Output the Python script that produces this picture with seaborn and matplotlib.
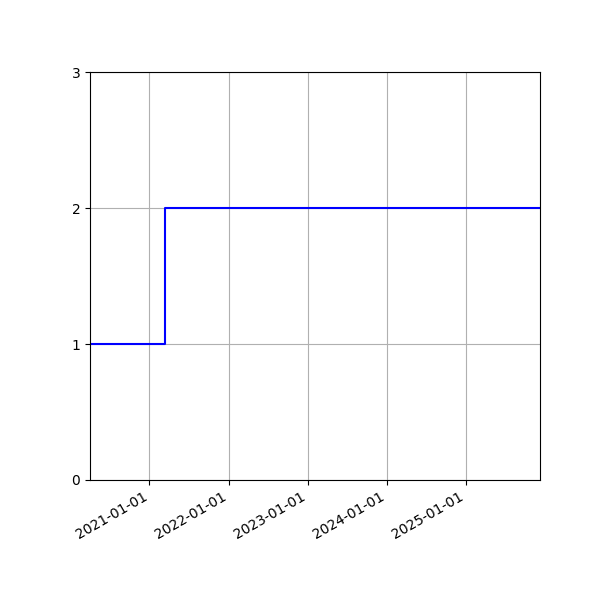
import matplotlib
matplotlib.use("Agg")
import matplotlib.pyplot as plt
import matplotlib.dates as mdates
import seaborn as sns
import pandas as pd

dates = ["2020-04-02", "2021-03-15", "2025-12-07"]
values = [1, 2, 2]
yticks = [0, 1, 2, 3]

df = pd.DataFrame({"date": pd.to_datetime(dates), "value": values})

fig, ax = plt.subplots(figsize=(6, 6), dpi=100)
fig.subplots_adjust(left=0.15, right=0.9, top=0.88, bottom=0.2)
sns.lineplot(data=df, x="date", y="value", ax=ax, color="blue",
             drawstyle="steps-post", linewidth=1.5)
ax.set_xlim(df["date"].min(), df["date"].max())
ax.set_ylim(0, 3)
ax.set_yticks(yticks)
ax.xaxis.set_major_locator(mdates.YearLocator())
ax.xaxis.set_major_formatter(mdates.DateFormatter("%Y-%m-%d"))
ax.grid(True)
ax.set_xlabel("")
ax.set_ylabel("")
for lbl in ax.get_xticklabels():
    lbl.set_rotation(30)
    lbl.set_ha("right")
fig.savefig("out.png", dpi=100)
